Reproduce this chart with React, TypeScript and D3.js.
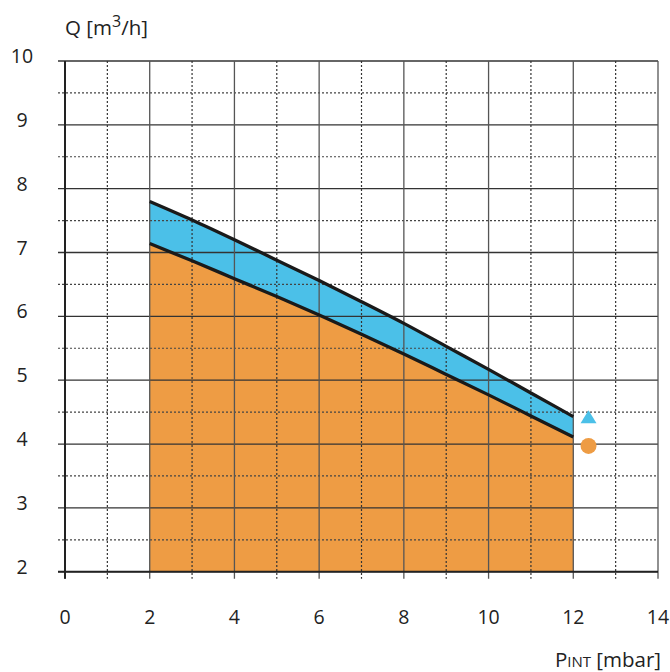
import * as d3 from "d3";
import React from "react";

// pressure [mbar] and flow band limits [m3/h]
const pressure = [2, 3, 4, 5, 6, 7, 8, 9, 10, 11, 12];
const qLow = [7.14, 6.87, 6.59, 6.31, 6.02, 5.72, 5.41, 5.09, 4.77, 4.44, 4.11];
const qHigh = [7.8, 7.51, 7.2, 6.88, 6.56, 6.23, 5.89, 5.53, 5.17, 4.8, 4.43];
const triangleMark = { p: 12.36, q: 4.42 };
const circleMark = { p: 12.36, q: 3.97 };
const xTicks = [0, 2, 4, 6, 8, 10, 12, 14];
const yTicks = [2, 3, 4, 5, 6, 7, 8, 9, 10];

const W = 670, H = 672;
const BLUE = "#4bc0e8";
const ORANGE = "#ee9c44";
const FONT = "'Open Sans', 'Noto Sans', sans-serif";

export default function App() {
  const x = d3.scaleLinear().domain([0, 14]).range([65, 658]);
  const y = d3.scaleLinear().domain([2, 10]).range([571.7, 61]);

  const rows = pressure.map((p, i) => ({ p, lo: qLow[i], hi: qHigh[i] }));
  const curve = d3.curveMonotoneX;

  const orangeArea = d3.area<any>().curve(curve).x((d) => x(d.p)).y0(y(2)).y1((d) => y(d.lo))(rows);
  const blueArea = d3.area<any>().curve(curve).x((d) => x(d.p)).y0((d) => y(d.lo)).y1((d) => y(d.hi))(rows);
  const lowLine = d3.line<any>().curve(curve).x((d) => x(d.p)).y((d) => y(d.lo))(rows);
  const highLine = d3.line<any>().curve(curve).x((d) => x(d.p)).y((d) => y(d.hi))(rows);

  // solid grid on whole units, dotted on the halves (y) / odd units (x)
  const xGrid = d3.range(0, 15);
  const yGrid = d3.range(2, 10.01, 0.5);

  const tx = x(triangleMark.p), ty = y(triangleMark.q);

  return (
    <svg width={W} height={H} style={{ position: "absolute", left: 0, top: 0 }} fontFamily={FONT}>
      <rect width={W} height={H} fill="#fff" />
      <path d={orangeArea!} fill={ORANGE} />
      <path d={blueArea!} fill={BLUE} />

      {yGrid.map((v) => {
        const whole = Math.abs(v - Math.round(v)) < 1e-6;
        return (
          <line key={"h" + v} x1={58} x2={x(14)} y1={y(v)} y2={y(v)}
            stroke={whole ? "#333" : "#444"} strokeWidth={whole ? 1.3 : 1.2}
            strokeDasharray={whole ? undefined : "2,2"} />
        );
      })}
      {xGrid.map((v) => {
        const even = v % 2 === 0;
        return (
          <line key={"v" + v} x1={x(v)} x2={x(v)} y1={y(10)} y2={y(2) + 7}
            stroke={even ? "#555" : "#333"} strokeWidth={even ? 1.3 : 1.2}
            strokeDasharray={even ? undefined : "2,2"} />
        );
      })}
      <line x1={x(0)} x2={x(0)} y1={y(10)} y2={y(2) + 7} stroke="#222" strokeWidth={2} />
      <line x1={58} x2={x(14)} y1={y(2)} y2={y(2)} stroke="#222" strokeWidth={2} />

      <path d={lowLine!} fill="none" stroke="#1a1a1a" strokeWidth={3.3} />
      <path d={highLine!} fill="none" stroke="#1a1a1a" strokeWidth={3.3} />

      <path d={`M${tx},${ty - 7}L${tx + 8},${ty + 6}L${tx - 8},${ty + 6}Z`} fill={BLUE} />
      <circle cx={x(circleMark.p)} cy={y(circleMark.q)} r={8} fill={ORANGE} />

      {yTicks.map((v) => (
        <text key={"yt" + v} x={22} y={y(v) + 2} textAnchor="middle" fontSize={19.5} fill="#222">{v}</text>
      ))}
      {xTicks.map((v) => (
        <text key={"xt" + v} x={x(v)} y={624} textAnchor="middle" fontSize={19.5} fill="#222">{v}</text>
      ))}

      <text x={65} y={35} fontSize={20.5} fill="#222">
        Q [m<tspan dy={-8} fontSize={16}>3</tspan><tspan dy={8}>/h]</tspan>
      </text>
      <text x={661} y={667} textAnchor="end" fontSize={20.5} fill="#222">
        P<tspan fontSize={15}>INT</tspan> [mbar]
      </text>
    </svg>
  );
}
